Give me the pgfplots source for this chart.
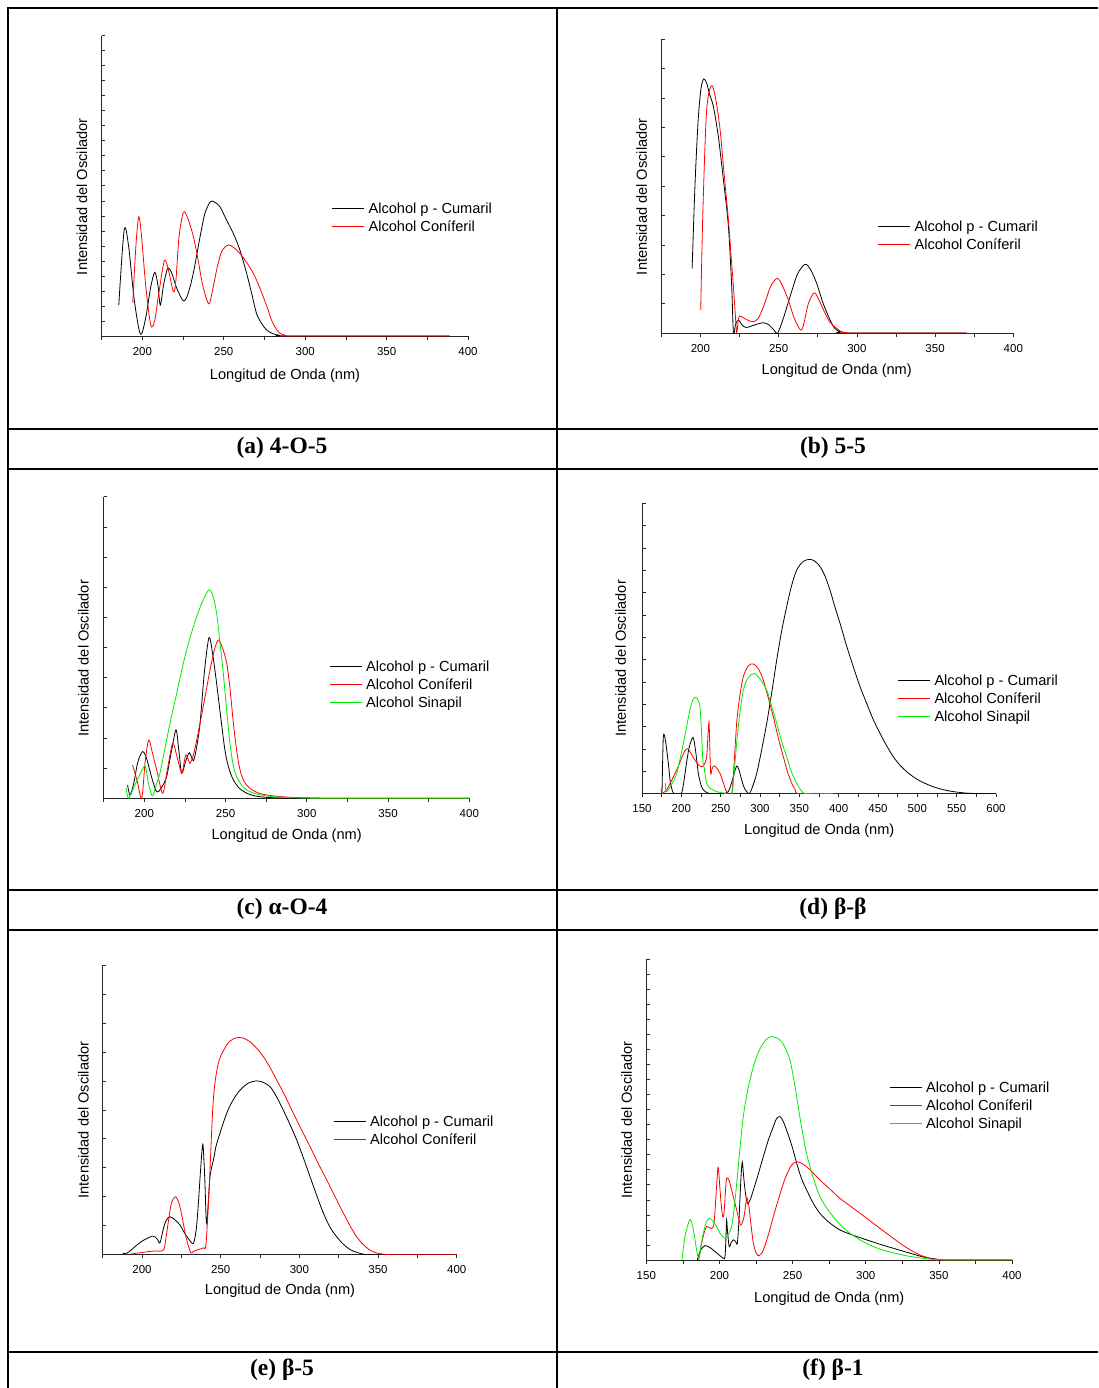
\documentclass[border=0pt]{standalone}
\usepackage{pgfplots}
\pgfplotsset{compat=1.18}
\usepackage{fontspec}
\setmainfont{Liberation Sans}
\newfontfamily\capfont{Liberation Serif}
\definecolor{lime}{RGB}{0,235,0}
\pgfplotsset{
  panel/.style={
    scale only axis,
    axis x line*=bottom, axis y line*=left,
    axis line style={line width=1pt, black!85},
    every tick/.style={black!85, line width=0.7pt},
    ymin=0, ymax=1,
    yticklabels={},
    xtick align=outside, ytick align=inside,
    major tick length=3.5pt, minor tick length=3.5pt,
    tick label style={font=\fontsize{11.5}{13}\selectfont},
    /pgf/number format/assume math mode=true,
    xticklabel style={yshift=-4pt},
    legend style={draw=none, fill=none, inner sep=0pt, outer sep=0pt, row sep=4pt,
      font=\fontsize{14.6}{16}\selectfont, anchor=north west,
      nodes={inner sep=0pt, text height=12pt, text depth=2pt},
      /tikz/every odd column/.append style={column sep=4pt}},
    legend cell align=left,
    legend image code/.code={\draw[#1] (0pt,0pt) -- (32pt,0pt);},
    every axis plot/.append style={line width=0.8pt, smooth, tension=0.5, mark=none},
  },
}
\newcommand{\lab}{\fontsize{14.6}{16}\selectfont}
\begin{document}
\begin{tikzpicture}
\path[use as bounding box] (0pt,0pt) rectangle (1098pt,-1388pt);

% ---------------- (a) 4-O-5 ----------------
\begin{axis}[panel, at={(101.7pt,-336pt)}, anchor=south west,
  width=366.3pt, height=300.3pt, xmin=175, xmax=400,
  xtick={200,250,...,400}, minor xtick={175,225,...,375},
  ytick={0,0.05,...,1.01},
  legend style={at={(0.628,0.4486)}}]
\addplot[black] coordinates {(185.5,0.103)(188.8,0.353)(191.5,0.30)(195,0.12)(198.8,0.006)(202,0.06)(205,0.16)(207.6,0.212)(209.5,0.17)(211,0.103)(213,0.17)(215.5,0.225)(218,0.21)(221,0.16)(225.2,0.117)(228,0.14)(231.3,0.21)(235.4,0.33)(238.5,0.41)(241.9,0.448)(244.5,0.445)(247.6,0.431)(251.7,0.386)(255.8,0.342)(259.9,0.286)(264,0.209)(267.1,0.142)(270.1,0.075)(273.2,0.042)(276.3,0.02)(280,0.008)(284.5,0.002)(290,0)(388.7,0)};
\addlegendentry{Alcohol p - Cumaril}
\addplot[red] coordinates {(194.1,0.111)(196,0.30)(197.8,0.397)(199.5,0.33)(202,0.17)(205.1,0.037)(207.5,0.05)(210,0.14)(213.5,0.251)(216,0.22)(219,0.148)(220.5,0.18)(222.5,0.33)(225.2,0.412)(228,0.39)(231.3,0.331)(234,0.26)(237,0.17)(240.7,0.107)(243,0.15)(246,0.23)(249,0.285)(252.8,0.303)(256,0.295)(259.9,0.275)(264,0.245)(268.1,0.209)(271,0.175)(274.2,0.131)(277,0.09)(279.3,0.053)(282,0.025)(284.5,0.009)(288,0.002)(292.6,0)(388.7,0)};
\addlegendentry{Alcohol Coníferil}
\end{axis}

% ---------------- (b) 5-5 ----------------
\begin{axis}[panel, at={(661.3pt,-333pt)}, anchor=south west,
  width=352pt, height=293.7pt, xmin=175, xmax=400,
  xtick={200,250,...,400}, minor xtick={175,225,...,375},
  ytick={0,0.1,...,1.01},
  legend style={at={(0.6148,0.388)}}]
\addplot[black] coordinates {(194.7,0.220)(196.5,0.50)(198.5,0.72)(200.3,0.83)(202.1,0.865)(204,0.85)(206,0.81)(208.3,0.771)(211.5,0.667)(214.7,0.521)(217.9,0.362)(220,0.158)(221.1,0)(222.5,0.03)(224.3,0.044)(227,0.025)(229.6,0.019)(235,0.028)(240.3,0.035)(244,0.027)(247,0.01)(249.4,0)(253,0.05)(257.3,0.124)(262,0.20)(266.9,0.234)(270.5,0.215)(274.3,0.169)(278.5,0.10)(282.9,0.044)(286,0.015)(289.2,0.005)(293,0)(370.2,0)};
\addlegendentry{Alcohol p - Cumaril}
\addplot[red] coordinates {(200.2,0.078)(201.5,0.40)(203.6,0.725)(205.5,0.82)(207.7,0.841)(210,0.79)(212.6,0.691)(215,0.55)(217.9,0.385)(219.5,0.27)(221.1,0.158)(222.2,0.07)(223.2,0)(224.2,0.045)(225.3,0.058)(228,0.05)(231,0.042)(233.9,0.039)(237,0.05)(241,0.10)(245,0.16)(249.2,0.186)(252.5,0.16)(256.2,0.112)(260,0.05)(264.1,0.010)(266,0.03)(269,0.10)(272.8,0.137)(276,0.11)(279.7,0.067)(283,0.035)(287.1,0.016)(290,0.005)(293.5,0.001)(296,0)(370.2,0)};
\addlegendentry{Alcohol Coníferil}
\end{axis}

% ---------------- (c) alpha-O-4 ----------------
\begin{axis}[panel, at={(103.7pt,-798.3pt)}, anchor=south west,
  width=365.6pt, height=301.6pt, xmin=175, xmax=400,
  xtick={200,250,...,400}, minor xtick={175,225,...,375},
  ytick={0,0.1,...,1.01},
  legend style={at={(0.617,0.4595)}}]
\addplot[black] coordinates {(189.7,0.044)(191.2,0.011)(193.5,0.05)(196,0.12)(199,0.155)(201.5,0.13)(204.5,0.07)(207.6,0.022)(210.5,0.035)(213.7,0.072)(216.5,0.15)(219.5,0.227)(221.2,0.16)(223,0.083)(225.3,0.12)(227.7,0.151)(230.2,0.125)(232.2,0.17)(234.3,0.249)(237,0.42)(239.8,0.533)(242,0.48)(244.5,0.381)(247,0.27)(249.6,0.160)(252,0.10)(254.8,0.061)(258.5,0.033)(263,0.017)(268,0.008)(275.3,0.003)(285,0.001)(295,0)(400,0)};
\addlegendentry{Alcohol p - Cumaril}
\addplot[red] coordinates {(192.8,0.110)(195.5,0.06)(198.4,0.0)(200.5,0.12)(202.7,0.193)(205,0.15)(207.6,0.094)(211.3,0.017)(214,0.09)(217.4,0.182)(220,0.14)(223,0.083)(224.5,0.12)(225.6,0.144)(227,0.13)(228.1,0.116)(230.5,0.15)(234.3,0.249)(237.5,0.34)(240.4,0.425)(243,0.49)(245.5,0.525)(248,0.50)(250.7,0.448)(252.8,0.36)(254.8,0.249)(256.8,0.16)(258.9,0.094)(261.5,0.055)(265,0.033)(270,0.018)(275.3,0.011)(283,0.006)(291.7,0.003)(305,0.001)(320,0)(400,0)};
\addlegendentry{Alcohol Coníferil}
\addplot[lime] coordinates {(188.7,0.035)(190.2,0.0)(193,0.03)(196.5,0.07)(200.4,0.107)(202.5,0.05)(204.9,0.008)(207,0.04)(209.6,0.083)(212.5,0.16)(215.8,0.249)(220,0.35)(224,0.448)(228,0.53)(232.2,0.602)(236,0.655)(239.8,0.691)(242.3,0.67)(244.5,0.613)(246.5,0.52)(248.6,0.414)(250.7,0.29)(252.7,0.182)(254.7,0.11)(256.8,0.072)(260,0.043)(263,0.028)(268,0.016)(275.3,0.008)(285,0.003)(300,0.001)(315,0)(400,0)};
\addlegendentry{Alcohol Sinapil}
\end{axis}

% ---------------- (d) beta-beta ----------------
\begin{axis}[panel, at={(642pt,-793.7pt)}, anchor=south west,
  width=354pt, height=290.4pt, xmin=150, xmax=600,
  xtick={150,200,...,600}, minor xtick={175,225,...,575},
  ytick={0,0.076923,...,1.01},
  legend style={at={(0.7223,0.4132)}}]
\addplot[black] coordinates {(175.4,0)(176.3,0.12)(177.1,0.196)(178.4,0.202)(180.5,0.17)(183.5,0.104)(186,0.04)(189,0.007)(190.7,0)(199.6,0)(202.5,0.03)(205.9,0.093)(210,0.16)(214.8,0.194)(218,0.15)(221.6,0.070)(225,0.03)(228,0.013)(234,0.002)(240.7,0)(255,0)(259.7,0.007)(263,0.03)(266.1,0.059)(270.3,0.095)(273.5,0.08)(276.7,0.047)(280,0.02)(283.1,0.007)(286.4,0)(290,0.02)(295.8,0.070)(302,0.15)(308.5,0.242)(315,0.35)(321.2,0.460)(327.5,0.56)(333.9,0.644)(340,0.715)(346.6,0.770)(355,0.80)(363.6,0.807)(370,0.80)(376.3,0.782)(382.5,0.75)(389,0.701)(395,0.645)(401.7,0.587)(410,0.51)(418.6,0.437)(427,0.37)(435.6,0.311)(444,0.255)(452.5,0.208)(461,0.165)(469.5,0.127)(478,0.098)(486.4,0.076)(495,0.058)(503.4,0.044)(512,0.033)(520.3,0.024)(530,0.016)(541.5,0.009)(552,0.005)(562.7,0.002)(580,0)(600,0)};
\addlegendentry{Alcohol p - Cumaril}
\addplot[red] coordinates {(174.2,0.018)(175.4,0)(178,0.005)(181.4,0.013)(187.5,0.045)(194.1,0.082)(200,0.12)(204,0.145)(207.6,0.155)(211,0.145)(214,0.13)(217.4,0.116)(221.5,0.10)(225.8,0.093)(229,0.10)(232.2,0.127)(233.8,0.20)(235.2,0.247)(236.2,0.16)(237.3,0.070)(239,0.085)(241.5,0.096)(245,0.088)(249.2,0.070)(253,0.04)(257.6,0.007)(264,0)(267,0.10)(270.3,0.242)(274,0.33)(278.8,0.403)(285,0.44)(291.5,0.447)(298,0.43)(304.2,0.391)(310.5,0.33)(316.9,0.265)(323,0.195)(329.7,0.127)(335,0.075)(340.3,0.036)(345,0.012)(350,0)(393.2,0)};
\addlegendentry{Alcohol Coníferil}
\addplot[lime] coordinates {(179.7,0.036)(180.5,0.007)(183,0.012)(188,0.035)(194.1,0.070)(200,0.14)(205.9,0.219)(211,0.29)(215,0.325)(218.6,0.332)(221.5,0.32)(223.7,0.300)(225.5,0.22)(227.1,0.127)(228.2,0.095)(228.8,0.093)(230,0.07)(232.2,0.036)(236,0.02)(244.9,0.007)(255,0.002)(264,0)(267,0.07)(270.3,0.173)(274,0.27)(278.8,0.357)(285,0.40)(292.8,0.414)(300,0.395)(308.5,0.357)(315,0.30)(321.2,0.242)(327.5,0.18)(333.9,0.127)(340,0.075)(346.6,0.036)(352,0.012)(359.3,0)(393.2,0)};
\addlegendentry{Alcohol Sinapil}
\end{axis}

% ---------------- (e) beta-5 ----------------
\begin{axis}[panel, at={(102.7pt,-1254.7pt)}, anchor=south west,
  width=354pt, height=289.7pt, xmin=175, xmax=400,
  xtick={200,250,...,400}, minor xtick={175,225,...,375},
  ytick={0,0.1,...,1.01},
  legend style={at={(0.6514,0.4857)}}]
\addplot[black] coordinates {(187.7,0.005)(190.3,0.005)(193.5,0.018)(196.6,0.033)(201,0.05)(206.8,0.064)(209.5,0.055)(211.4,0.041)(213.6,0.091)(215.5,0.12)(217.8,0.131)(221,0.12)(224.2,0.102)(227,0.075)(229.4,0.056)(232.6,0.039)(234.5,0.09)(235.8,0.177)(237.3,0.30)(238.6,0.381)(239.4,0.32)(240,0.246)(241.1,0.108)(243.2,0.269)(245.5,0.33)(247.5,0.384)(253.8,0.488)(258,0.535)(262.3,0.568)(267.5,0.592)(272.9,0.600)(277,0.595)(281.4,0.580)(285.5,0.545)(289.8,0.499)(294,0.45)(298.3,0.396)(302.5,0.335)(306.8,0.269)(311,0.205)(315.3,0.143)(319.5,0.095)(323.7,0.062)(328,0.036)(332.2,0.018)(336.5,0.008)(340.7,0.002)(346,0)(400,0)};
\addlegendentry{Alcohol p - Cumaril}
\addplot[red] coordinates {(192.4,0.002)(203,0.010)(208,0.013)(213.6,0.016)(215.3,0.062)(218.2,0.166)(219.8,0.192)(221.4,0.200)(223,0.185)(224.6,0.154)(226.5,0.10)(228.4,0.051)(230.9,0.007)(232.5,0.011)(234.7,0.016)(239,0.024)(240.7,0.039)(242.8,0.246)(245.3,0.534)(248.5,0.661)(253.8,0.724)(258,0.745)(261.9,0.750)(265,0.746)(268.6,0.735)(272.8,0.713)(277.1,0.684)(281.3,0.647)(285.6,0.603)(291,0.547)(296.2,0.488)(301.5,0.43)(306.8,0.373)(312,0.315)(317.4,0.258)(322.7,0.20)(328,0.143)(332.2,0.10)(336.4,0.062)(340.6,0.035)(344.9,0.016)(349,0.006)(353.4,0.002)(360,0)(400,0)};
\addlegendentry{Alcohol Coníferil}
\end{axis}

% ---------------- (f) beta-1 ----------------
\begin{axis}[panel, at={(646.3pt,-1260pt)}, anchor=south west,
  width=365.7pt, height=300.7pt, xmin=150, xmax=400,
  xtick={150,200,...,400}, minor xtick={175,225,...,375},
  ytick={0,0.05,...,1.01},
  legend style={at={(0.6645,0.5976)}}]
\addplot[black] coordinates {(184.9,0)(186.7,0.028)(188.5,0.042)(190.1,0.048)(193,0.043)(195.8,0.033)(199,0.02)(202.6,0.006)(203.8,0.011)(204.5,0.08)(204.9,0.133)(205.6,0.09)(206.7,0.044)(208,0.058)(209.5,0.067)(211,0.062)(212.2,0.055)(213.2,0.12)(214,0.200)(214.8,0.28)(215.6,0.326)(216.5,0.28)(217.5,0.233)(219.1,0.188)(221,0.20)(223.2,0.233)(226.5,0.285)(230,0.344)(233.5,0.40)(236.8,0.443)(239,0.47)(241.4,0.477)(243.5,0.462)(245.9,0.432)(249.5,0.38)(252.8,0.322)(256,0.272)(259.6,0.233)(264,0.19)(268.7,0.155)(275,0.125)(282.4,0.100)(291,0.083)(300.6,0.067)(310,0.052)(318.9,0.039)(328,0.026)(337.1,0.013)(343,0.007)(348.5,0.003)(357.6,0)(400,0)};
\addlegendentry{Alcohol p - Cumaril}
\addplot[red] coordinates {(185.8,0)(187.8,0.055)(189.5,0.09)(191.2,0.111)(193,0.108)(194.7,0.105)(196.3,0.122)(197.7,0.22)(199,0.308)(199.7,0.28)(200.4,0.233)(201.3,0.18)(202.2,0.144)(203.1,0.155)(204,0.22)(204.9,0.272)(206.5,0.265)(208.3,0.233)(210,0.20)(211.8,0.166)(213.2,0.135)(214.5,0.116)(215.7,0.125)(216.8,0.144)(218.6,0.205)(219.4,0.195)(220.2,0.177)(221.5,0.12)(223.2,0.055)(225,0.025)(226.6,0.014)(228.3,0.02)(230,0.033)(233.5,0.085)(236.8,0.144)(240.2,0.20)(243.7,0.255)(246.5,0.29)(249.4,0.316)(251.8,0.325)(254.1,0.326)(256.8,0.32)(259.6,0.310)(264,0.29)(268.7,0.266)(275.5,0.236)(282.4,0.205)(291.5,0.172)(300.6,0.139)(309.8,0.105)(318.9,0.072)(325.7,0.048)(332.5,0.028)(337,0.017)(341.7,0.009)(346,0.003)(350.8,0)(400,0)};
\addlegendentry{Alcohol Coníferil}
\addplot[lime] coordinates {(174.4,0)(176.5,0.08)(179.9,0.135)(182.2,0.10)(184.4,0.033)(186,0.006)(187.5,0.05)(189,0.089)(191,0.125)(193.1,0.139)(195,0.132)(196.9,0.122)(200.4,0.089)(203.8,0.072)(206,0.085)(208.3,0.111)(210,0.17)(211.8,0.255)(214,0.37)(216.3,0.477)(219.5,0.57)(223.2,0.643)(226.5,0.69)(230,0.721)(233,0.738)(236.1,0.743)(239.3,0.738)(242.5,0.726)(245.5,0.70)(248.2,0.665)(250.5,0.61)(252.8,0.543)(255,0.475)(257.3,0.410)(259.5,0.355)(261.9,0.310)(265,0.26)(268.7,0.211)(273,0.175)(277.8,0.144)(283,0.115)(289.2,0.089)(295,0.07)(300.6,0.055)(306,0.043)(312,0.033)(318,0.025)(323.4,0.019)(329,0.013)(334.8,0.009)(340,0.005)(346.2,0.002)(352,0.001)(357.6,0)(400,0)};
\addlegendentry{Alcohol Sinapil}
\end{axis}

% axis titles
\node[font=\lab] at (285pt,-375.3pt) {Longitud de Onda (nm)};
\node[font=\lab,rotate=90] at (82pt,-196.7pt) {Intensidad del Oscilador};
\node[font=\lab] at (836.7pt,-371pt) {Longitud de Onda (nm)};
\node[font=\lab,rotate=90] at (641.7pt,-196.7pt) {Intensidad del Oscilador};
\node[font=\lab] at (286.7pt,-836pt) {Longitud de Onda (nm)};
\node[font=\lab,rotate=90] at (83.3pt,-658.3pt) {Intensidad del Oscilador};
\node[font=\lab] at (819.3pt,-831pt) {Longitud de Onda (nm)};
\node[font=\lab,rotate=90] at (620.7pt,-658.3pt) {Intensidad del Oscilador};
\node[font=\lab] at (280pt,-1291pt) {Longitud de Onda (nm)};
\node[font=\lab,rotate=90] at (83.3pt,-1120pt) {Intensidad del Oscilador};
\node[font=\lab] at (829.3pt,-1298.7pt) {Longitud de Onda (nm)};
\node[font=\lab,rotate=90] at (626.7pt,-1120pt) {Intensidad del Oscilador};

% table frame
\draw[line width=1.8pt] (7.7pt,-1388pt) -- (7.7pt,-8.3pt) -- (1098pt,-8.3pt);
\draw[line width=1.8pt] (556.7pt,-8.3pt) -- (556.7pt,-1388pt);
\foreach \yy in {429,469.3,890,930.3,1351.7}
  \draw[line width=1.8pt] (7.7pt,-\yy pt) -- (1098pt,-\yy pt);

% captions
\begin{scope}[every node/.style={font=\capfont\bfseries\fontsize{23.5}{26}\selectfont, anchor=base, inner sep=0pt}]
\node at (282pt,-453pt) {(a) 4-O-5};
\node at (833pt,-453pt) {(b) 5-5};
\node at (282pt,-914pt) {(c) α-O-4};
\node at (833pt,-914pt) {(d) β-β};
\node at (282pt,-1375.5pt) {(e) β-5};
\node at (833pt,-1375.5pt) {(f) β-1};
\end{scope}
\end{tikzpicture}
\end{document}
